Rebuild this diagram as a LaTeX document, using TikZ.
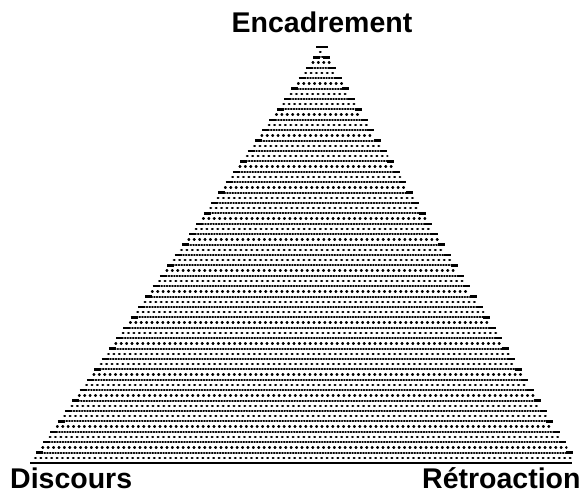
\documentclass[tikz,border=0pt]{standalone}
\usepackage{fontspec}
\setmainfont{Liberation Sans}

\tikzset{
  cornerlabel/.style={inner sep=0pt, font=\fontsize{28.5}{29}\bfseries},
  densedots/.style={line width=2pt, line cap=round, dash pattern=on 0.7pt off 2pt},
  sparsedots/.style={line width=2.4pt, line cap=round, dash pattern=on 0.7pt off 4.7pt},
  enddash/.style={line width=2.3pt, line cap=butt},
}

\begin{document}
\begin{tikzpicture}[x=1pt, y=-1pt]
    \useasboundingbox (0,0) rectangle (581,494);

    % Corners of the triangle
    \node[cornerlabel, anchor=base] (encadrement) at (322,33) {Encadrement};
    \node[cornerlabel, anchor=base west] (discours) at (10,488) {Discours};
    \node[cornerlabel, anchor=base west] (retroaction) at (422,488) {Rétroaction};

    % Dotted filling, one row at a time
    \foreach \k in {0,...,79}{
        \pgfmathsetmacro\yy{47+5.2*\k}
        \pgfmathsetmacro\xl{322-0.7022*(\yy-45)}
        \pgfmathsetmacro\xr{322+0.6150*(\yy-45)}
        \ifodd\k
            \draw[sparsedots] (\xl+3,\yy) -- (\xr-3,\yy);
        \else
            \draw[densedots] (\xl+6,\yy) -- (\xr-6,\yy);
            \draw[enddash] (\xl,\yy) -- (\xl+7,\yy);
            \draw[enddash] (\xr-7,\yy) -- (\xr,\yy);
        \fi
    }

    % Base line
    \coordinate (baseL) at (30,463);
    \coordinate (baseR) at (572,463);
    \draw[line width=1.6pt] (baseL) -- (baseR);
\end{tikzpicture}
\end{document}
